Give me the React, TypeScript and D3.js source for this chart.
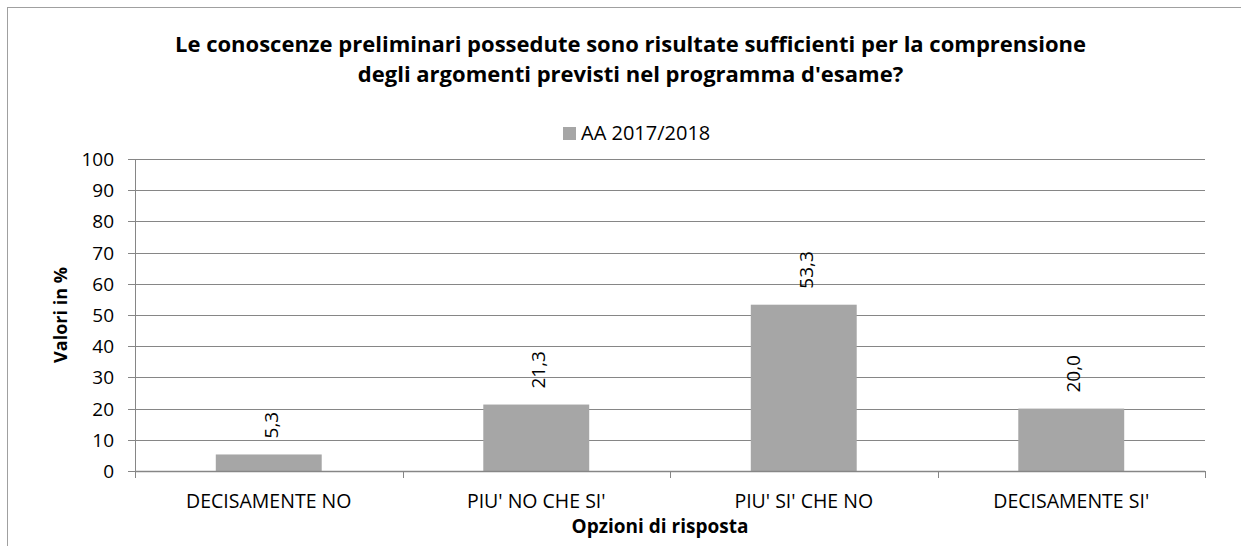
import React from "react";
import * as d3 from "d3";

const categories = ["DECISAMENTE NO", "PIU' NO CHE SI'", "PIU' SI' CHE NO", "DECISAMENTE SI'"];
const values = [5.3, 21.3, 53.3, 20.0];
const yTicks = [0, 10, 20, 30, 40, 50, 60, 70, 80, 90, 100];
const seriesName = "AA 2017/2018";
const titleLines = [
  "Le conoscenze preliminari possedute sono risultate sufficienti per la comprensione",
  "degli argomenti previsti nel programma d'esame?",
];
const xTitle = "Opzioni di risposta";
const yTitle = "Valori in %";

const W = 1241;
const H = 546;
const FONT = "'Open Sans', sans-serif";
const left = 135, right = 1205, top = 159, bottom = 471;
const BAR = "#a6a6a6";
const GRID = "#868686";

export default function App() {
  const x = d3.scaleBand<string>().domain(categories).range([left, right]).paddingInner(0.604).paddingOuter(0.302);
  const y = d3.scaleLinear().domain([0, 100]).range([bottom, top]);
  const step = x.step();
  const boundaries = d3.range(categories.length + 1).map((i) => left + i * step);
  const fmt = (v: number) => v.toFixed(1).replace(".", ",");

  return (
    <svg width={W} height={H} style={{ position: "absolute", left: 0, top: 0, background: "#fff" }} fontFamily={FONT}>
      <rect x={0} y={0} width={W} height={H} fill="#fff" />
      <rect x={7.5} y={7.5} width={W + 50} height={H + 50} fill="none" stroke="#a0a0a0" strokeWidth={1} />
      {titleLines.map((t, i) => (
        <text key={i} x={630.5} y={52 + i * 30} textAnchor="middle" fontSize={22} fontWeight="bold" fill="#000">
          {t}
        </text>
      ))}
      <rect x={563} y={127} width={13} height={13} fill={BAR} />
      <text x={581} y={140} fontSize={20} fill="#000">{seriesName}</text>

      {yTicks.map((t) => (
        <g key={t}>
          <line x1={left - 7} x2={right} y1={Math.round(y(t)) + 0.5} y2={Math.round(y(t)) + 0.5} stroke={GRID} strokeWidth={1} />
          <text x={114} y={y(t)} textAnchor="end" dominantBaseline="central" fontSize={19} fill="#000">{t}</text>
        </g>
      ))}
      <line x1={left + 0.5} x2={left + 0.5} y1={top} y2={bottom} stroke={GRID} strokeWidth={1} />

      {categories.map((c, i) => {
        const bx = x(c)!;
        const by = y(values[i]);
        const cx = bx + x.bandwidth() / 2;
        return (
          <g key={c}>
            <rect x={bx} y={by} width={x.bandwidth()} height={bottom - by} fill={BAR} />
            <text transform={`translate(${cx + 2},${by - 16}) rotate(-90)`} dominantBaseline="central" fontSize={19} fill="#000">
              {fmt(values[i])}
            </text>
            <text x={cx} y={508} textAnchor="middle" fontSize={19.5} fill="#000">{c}</text>
          </g>
        );
      })}
      <line x1={left} x2={right} y1={bottom + 0.5} y2={bottom + 0.5} stroke={GRID} strokeWidth={1.5} />
      {boundaries.map((bx, i) => (
        <line key={i} x1={Math.round(bx) + 0.5} x2={Math.round(bx) + 0.5} y1={bottom} y2={bottom + 7} stroke={GRID} strokeWidth={1} />
      ))}
      <text x={660} y={533} textAnchor="middle" fontSize={19} fontWeight="bold" fill="#000">{xTitle}</text>
      <text transform={`translate(67,315) rotate(-90)`} textAnchor="middle" fontSize={18} fontWeight="bold" fill="#000">{yTitle}</text>
    </svg>
  );
}
